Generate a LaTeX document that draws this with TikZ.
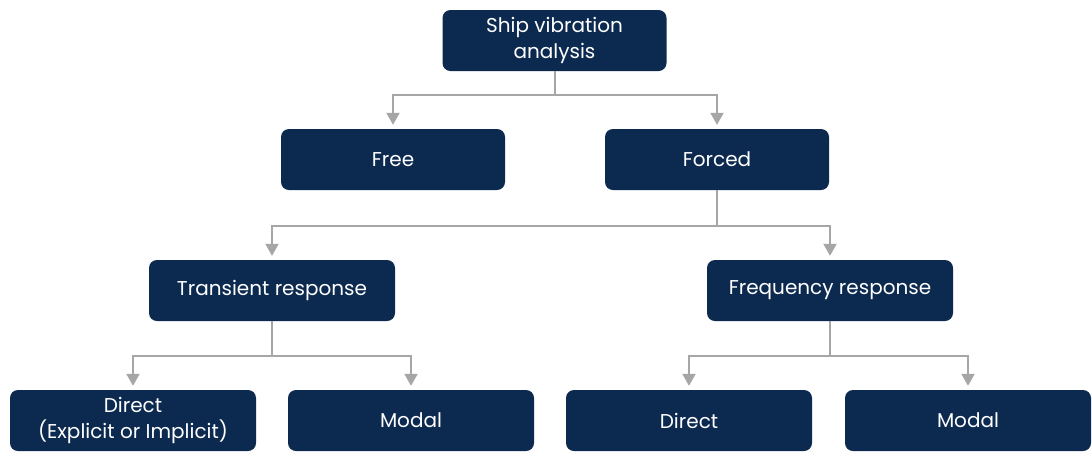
\documentclass[tikz,border=0pt]{standalone}
\usepackage{fontspec}
\setmainfont{Poppins}
\usetikzlibrary{arrows.meta}
\definecolor{navy}{HTML}{0C2A4F}
\definecolor{conn}{HTML}{A6A6A6}
\tikzset{
  box/.style={fill=navy, rounded corners=8pt, text=white, minimum width=224pt, minimum height=61pt, align=center, inner sep=0pt, font=\fontsize{20}{26}\selectfont},
  wbox/.style={box, minimum width=246pt},
  link/.style={draw=conn, line width=2pt},
  arr/.style={link, -{Triangle[length=12pt,width=13pt]}, shorten >=4pt}
}
\begin{document}
\begin{tikzpicture}[x=1pt,y=-1pt]
\clip (0,0) rectangle (1092,451);
\fill[white] (0,0) rectangle (1092,451);
\node[box] (ship) at (554.5,40.5) {Ship vibration\\analysis};
\node[box] (free) at (393,159.5) {Free};
\node[box] (forced) at (717,159.5) {Forced};
\node[wbox] (trans) at (272,290.5) {Transient response};
\node[wbox] (freq) at (830,290.5) {Frequency response};
\node[wbox] (d1) at (133,420.5) {Direct\\(Explicit or Implicit)};
\node[wbox] (m1) at (411,420.5) {Modal};
\node[wbox] (d2) at (689,420.5) {Direct};
\node[wbox] (m2) at (968,420.5) {Modal};
\coordinate (j1) at (554.5,95);
\coordinate (j2) at (717,226);
\coordinate (j3) at (272,356);
\coordinate (j4) at (830,356);
\draw[link] (ship.south) -- (j1);
\draw[arr] (j1) -| (free.north);
\draw[arr] (j1) -| (forced.north);
\draw[link] (forced.south) -- (j2);
\draw[arr] (j2) -| (trans.north);
\draw[arr] (j2) -| (freq.north);
\draw[link] (trans.south) -- (j3);
\draw[arr] (j3) -| (d1.north);
\draw[arr] (j3) -| (m1.north);
\draw[link] (freq.south) -- (j4);
\draw[arr] (j4) -| (d2.north);
\draw[arr] (j4) -| (m2.north);
\end{tikzpicture}
\end{document}
